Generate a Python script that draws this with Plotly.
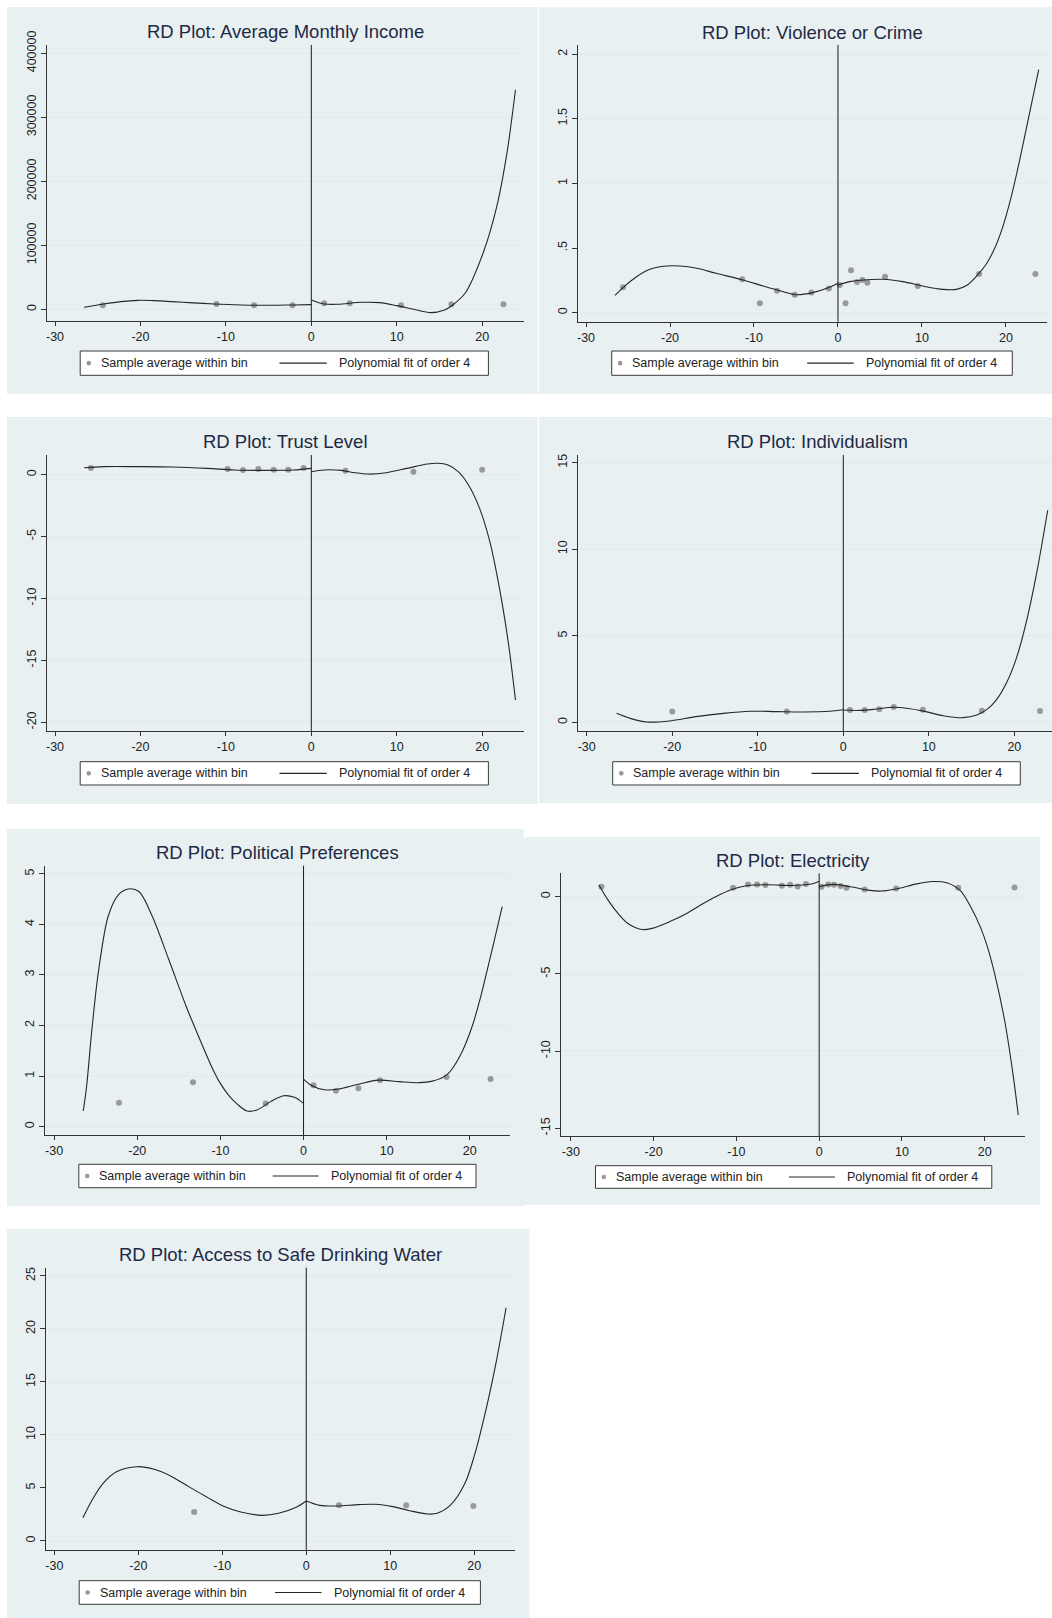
import plotly.graph_objects as go

W, H = 1052, 1618
FONT = "Liberation Sans, Arial, sans-serif"

# ---------------------------------------------------------------- data
x_ticks = [-30, -20, -10, 0, 10, 20]

# Average Monthly Income
income_bin_x = [-24.4, -11.1, -6.7, -2.2, 1.5, 4.5, 10.5, 16.4, 22.5]
income_bin_y = [6200, 8300, 6200, 6200, 9400, 9400, 6200, 7800, 7800]
income_left_x = [-26.6, -24.3, -22.3, -20.3, -18.3, -16.3, -14.3, -11.4, -8.2, -5.0, -2.1, 0]
income_left_y = [3100, 8300, 12000, 14000, 13500, 12000, 10400, 8300, 6800, 6200, 6800, 7300]
income_right_x = [0, 1.5, 3.1, 5.9, 8.0, 10.0, 12.0, 14.0, 15.6, 16.4, 18.0, 20.1, 21.7, 22.9, 23.9]
income_right_y = [14600, 8300, 7800, 10900, 10400, 5700, 0, -5200, -1000, 5200, 25000, 87500,
                  160000, 244000, 343000]
income_yticks = [0, 100000, 200000, 300000, 400000]
income_ytext = ["0", "100000", "200000", "300000", "400000"]

# Violence or Crime
crime_bin_x = [-25.6, -11.4, -9.3, -7.25, -5.15, -3.17, -1.1, 0.2, 0.9, 1.55, 2.26, 2.9, 3.5,
               5.6, 9.5, 16.8, 23.5]
crime_bin_y = [0.196, 0.258, 0.072, 0.170, 0.139, 0.155, 0.186, 0.214, 0.072, 0.327, 0.237,
               0.253, 0.232, 0.278, 0.206, 0.299, 0.299]
crime_left_x = [-26.55, -25.56, -23.98, -22.4, -20.4, -18.8, -16.8, -14.5, -11.3, -8.9, -6.5,
                -5.0, -3.0, -1.0, 0]
crime_left_y = [0.134, 0.196, 0.278, 0.335, 0.361, 0.361, 0.343, 0.304, 0.253, 0.206, 0.162,
                0.139, 0.155, 0.196, 0.227]
crime_right_x = [0, 1.4, 3.0, 5.35, 7.7, 10.1, 12.5, 14.1, 15.3, 16.6, 17.6, 18.6, 19.6, 20.6,
                 21.6, 22.6, 23.9]
crime_right_y = [0.214, 0.240, 0.253, 0.258, 0.240, 0.206, 0.180, 0.180, 0.210, 0.29, 0.37,
                 0.49, 0.66, 0.89, 1.17, 1.48, 1.88]
crime_yticks = [0, 0.5, 1, 1.5, 2]
crime_ytext = ["0", ".5", "1", "1.5", "2"]

# Trust Level
trust_bin_x = [-25.8, -9.8, -8.0, -6.2, -4.4, -2.7, -0.9, 4.0, 11.95, 20.0]
trust_bin_y = [0.54, 0.46, 0.38, 0.46, 0.40, 0.40, 0.54, 0.32, 0.24, 0.40]
trust_left_x = [-26.6, -24.3, -20.3, -16.3, -12.2, -9.0, -6.2, -2.1, 0]
trust_left_y = [0.56, 0.65, 0.65, 0.62, 0.51, 0.38, 0.35, 0.38, 0.51]
trust_right_x = [0, 1.5, 3.5, 5.1, 6.7, 8.8, 11.2, 13.6, 14.8, 16.0, 17.2, 18.4, 19.7, 20.9,
                 22.1, 23.1, 23.9]
trust_right_y = [0.24, 0.38, 0.35, 0.16, 0.05, 0.16, 0.51, 0.86, 0.92, 0.78, 0.24, -0.83,
                 -2.72, -5.41, -9.45, -13.75, -18.2]
trust_yticks = [0, -5, -10, -15, -20]
trust_ytext = ["0", "-5", "-10", "-15", "-20"]

# Individualism
indiv_bin_x = [-20.0, -6.6, 0.78, 2.5, 4.2, 5.9, 9.3, 16.2, 23.0]
indiv_bin_y = [0.62, 0.62, 0.71, 0.71, 0.75, 0.89, 0.73, 0.67, 0.65]
indiv_left_x = [-26.5, -24.9, -23.0, -20.3, -17.2, -14.0, -10.9, -7.8, -4.7, -1.6, 0]
indiv_left_y = [0.52, 0.23, 0.02, 0.08, 0.33, 0.52, 0.64, 0.62, 0.60, 0.64, 0.73]
indiv_right_x = [0, 1.95, 3.9, 5.85, 7.4, 9.36, 11.7, 14.0, 15.6, 16.8, 17.9, 19.1, 20.3,
                 21.4, 22.6, 23.9]
indiv_right_y = [0.71, 0.69, 0.77, 0.87, 0.81, 0.65, 0.385, 0.27, 0.42, 0.75, 1.3, 2.3,
                 3.8, 5.8, 8.6, 12.25]
indiv_yticks = [0, 5, 10, 15]
indiv_ytext = ["0", "5", "10", "15"]

# Political Preferences
politics_bin_x = [-22.2, -13.3, -4.55, 1.2, 3.9, 6.6, 9.2, 17.2, 22.5]
politics_bin_y = [0.475, 0.88, 0.46, 0.82, 0.71, 0.76, 0.92, 0.98, 0.94]
politics_left_x = [-26.5, -26.1, -25.5, -24.7, -23.5, -22.3, -21.1, -19.8, -18.2, -16.2,
                   -14.1, -13.1, -12.1, -11.1, -10.1, -9.0, -8.0, -6.8, -5.6, -4.0, -2.4,
                   -1.1, 0]
politics_left_y = [0.31, 0.79, 1.85, 3.03, 4.16, 4.58, 4.70, 4.65, 4.16, 3.30, 2.37, 1.97,
                   1.58, 1.20, 0.88, 0.62, 0.45, 0.31, 0.33, 0.49, 0.61, 0.58, 0.46]
politics_right_x = [0, 0.9, 2.5, 4.1, 6.6, 9.0, 11.5, 13.9, 15.5, 17.2, 18.0, 18.8, 19.6,
                    20.4, 21.2, 22.0, 22.9, 23.9]
politics_right_y = [0.94, 0.82, 0.73, 0.74, 0.84, 0.92, 0.89, 0.87, 0.90, 1.02, 1.17, 1.39,
                    1.68, 2.04, 2.5, 3.03, 3.65, 4.35]
politics_yticks = [0, 1, 2, 3, 4, 5]
politics_ytext = ["0", "1", "2", "3", "4", "5"]

# Electricity
elec_bin_x = [-26.3, -10.4, -8.6, -7.5, -6.5, -4.5, -3.5, -2.6, -1.6, 0.3, 1.1, 1.8, 2.6,
              3.3, 5.5, 9.3, 16.8, 23.6]
elec_bin_y = [0.65, 0.58, 0.80, 0.80, 0.76, 0.71, 0.78, 0.67, 0.82, 0.65, 0.80, 0.78, 0.69,
              0.58, 0.47, 0.54, 0.58, 0.60]
elec_left_x = [-26.6, -25.5, -24.3, -23.1, -21.4, -20.2, -18.1, -16.0, -14.0, -11.9, -10.2,
               -8.6, -6.1, -3.6, -2.0, -0.7, 0]
elec_left_y = [0.76, -0.22, -1.08, -1.73, -2.12, -2.05, -1.62, -1.08, -0.43, 0.17, 0.54,
               0.73, 0.78, 0.73, 0.76, 0.86, 1.01]
elec_right_x = [0, 1.7, 3.8, 5.9, 7.5, 9.6, 11.65, 13.7, 15.4, 17.0, 18.3, 19.5, 20.3, 21.2,
                22.4, 23.4, 24.05]
elec_right_y = [0.65, 0.80, 0.65, 0.43, 0.37, 0.54, 0.82, 0.99, 0.91, 0.43, -0.65, -2.0,
                -3.2, -5.0, -8.0, -11.44, -14.14]
elec_yticks = [0, -5, -10, -15]
elec_ytext = ["0", "-5", "-10", "-15"]

# Access to Safe Drinking Water
water_bin_x = [-13.35, 3.9, 11.9, 19.9]
water_bin_y = [2.74, 3.36, 3.36, 3.30]
water_left_x = [-26.6, -25.5, -24.2, -22.6, -20.1, -18.1, -16.0, -14.0, -11.9, -9.9, -7.8,
                -5.3, -3.3, -1.2, 0]
water_left_y = [2.2, 3.87, 5.44, 6.54, 7.01, 6.76, 6.07, 5.13, 4.18, 3.30, 2.74, 2.42, 2.61,
                3.18, 3.77]
water_right_x = [0, 1.6, 3.7, 6.2, 8.2, 10.3, 12.3, 14.4, 15.6, 17.2, 18.9, 20.1, 21.4,
                 22.6, 23.8]
water_right_y = [3.77, 3.36, 3.30, 3.43, 3.46, 3.24, 2.86, 2.55, 2.61, 3.40, 5.44, 8.27,
                 12.36, 16.8, 22.0]
water_yticks = [0, 5, 10, 15, 20, 25]
water_ytext = ["0", "5", "10", "15", "20", "25"]

legend_labels = ["Sample average within bin", "Polynomial fit of order 4"]

panels = [
    ("RD Plot: Average Monthly Income", income_bin_x, income_bin_y, income_left_x,
     income_left_y, income_right_x, income_right_y, income_yticks, income_ytext),
    ("RD Plot: Violence or Crime", crime_bin_x, crime_bin_y, crime_left_x, crime_left_y,
     crime_right_x, crime_right_y, crime_yticks, crime_ytext),
    ("RD Plot: Trust Level", trust_bin_x, trust_bin_y, trust_left_x, trust_left_y,
     trust_right_x, trust_right_y, trust_yticks, trust_ytext),
    ("RD Plot: Individualism", indiv_bin_x, indiv_bin_y, indiv_left_x, indiv_left_y,
     indiv_right_x, indiv_right_y, indiv_yticks, indiv_ytext),
    ("RD Plot: Political Preferences", politics_bin_x, politics_bin_y, politics_left_x,
     politics_left_y, politics_right_x, politics_right_y, politics_yticks, politics_ytext),
    ("RD Plot: Electricity", elec_bin_x, elec_bin_y, elec_left_x, elec_left_y, elec_right_x,
     elec_right_y, elec_yticks, elec_ytext),
    ("RD Plot: Access to Safe Drinking Water", water_bin_x, water_bin_y, water_left_x,
     water_left_y, water_right_x, water_right_y, water_yticks, water_ytext),
]

# ---------------------------------------------------------------- page geometry (px)
# bg: graph region box, plot: plot region, xr/yr: axis ranges, title: centre, legend: box
geometry = [
    dict(bg=(7, 7, 537.7, 394), plot=(46.5, 45, 523.5, 321), xr=[-31, 24.84],
         yr=[-18300, 413000], title=(285.5, 31.7), legend=(80.2, 351, 488.4, 375.3)),
    dict(bg=(539, 7.3, 1052, 394), plot=(577.7, 45, 1046.7, 321.7), xr=[-30.99, 24.85],
         yr=[-0.07, 2.07], title=(812.2, 32.3), legend=(611.7, 351, 1012.3, 375.3)),
    dict(bg=(7, 417, 537.7, 804), plot=(46.5, 455, 523.5, 731), xr=[-31, 24.84],
         yr=[-20.7, 1.59], title=(285.5, 441), legend=(80.2, 761.7, 488.4, 785)),
    dict(bg=(539.3, 417, 1052, 803), plot=(578.3, 455, 1052, 731), xr=[-30.98, 24.4],
         yr=[-0.5, 15.44], title=(817.3, 441), legend=(612.7, 761.7, 1020.3, 785)),
    dict(bg=(7, 829, 523.7, 1206), plot=(45, 865.7, 509.7, 1135), xr=[-31.1, 24.8],
         yr=[-0.165, 5.16], title=(277.3, 852.3), legend=(78.8, 1164.3, 476, 1187.7)),
    dict(bg=(523.7, 837, 1040, 1205), plot=(561.2, 873.3, 1025.3, 1136), xr=[-31.16, 24.9],
         yr=[-15.5, 1.52], title=(793.3, 860), legend=(595.5, 1165.7, 991.8, 1188.3)),
    dict(bg=(7, 1229, 529.3, 1618), plot=(45.8, 1267.7, 514.9, 1550), xr=[-31.02, 24.85],
         yr=[-0.85, 25.78], title=(280.4, 1254), legend=(79.2, 1580.7, 480.4, 1604.3)),
]

REGION = "#e8f0f2"
GRID = "#e3ecef"
AXIS = "#333333"
TEXT = "#222222"
TITLE = "#1e2a44"
DOT = "#999999"
CURVE = "#262626"


def px(x):
    return x / W


def py(y):
    return 1 - y / H


fig = go.Figure()
shapes, annotations, axes = [], [], {}

for i, (panel, g) in enumerate(zip(panels, geometry), start=1):
    title, bx, by, lx, ly, rx, ry, yt, ytext = panel
    sfx = "" if i == 1 else str(i)
    xa, ya = "x" + sfx, "y" + sfx

    # graph region background
    x0, y0, x1, y1 = g["bg"]
    shapes.append(dict(type="rect", xref="paper", yref="paper", x0=px(x0), x1=px(x1),
                       y0=py(y1), y1=py(y0), fillcolor=REGION, line=dict(width=0),
                       layer="below"))

    l, t, r, b = g["plot"]
    axes["xaxis" + sfx] = dict(
        domain=[px(l), px(r)], range=g["xr"], anchor=ya, tickmode="array", tickvals=x_ticks,
        ticktext=[str(v) for v in x_ticks], ticks="outside", ticklen=4, tickwidth=1,
        tickcolor=AXIS, showline=True, linecolor=AXIS, linewidth=1, showgrid=False,
        zeroline=False, automargin=False,
        tickfont=dict(family=FONT, size=12.5, color=TEXT), fixedrange=True)
    axes["yaxis" + sfx] = dict(
        domain=[py(b), py(t)], range=g["yr"], anchor=xa, tickmode="array", tickvals=yt,
        ticktext=ytext, tickangle=-90, ticks="outside", ticklen=5, tickwidth=1,
        tickcolor=AXIS, showline=True, linecolor=AXIS, linewidth=1, showgrid=True,
        gridcolor=GRID, gridwidth=1.5, zeroline=False, automargin=False,
        tickfont=dict(family=FONT, size=12.5, color=TEXT), fixedrange=True)

    # binned sample means
    fig.add_trace(go.Scatter(x=bx, y=by, mode="markers", xaxis=xa, yaxis=ya,
                             marker=dict(size=6, color=DOT, line=dict(width=0)),
                             showlegend=False, hoverinfo="x+y"))
    # fourth-order fits on each side of the cutoff
    for cx, cy in ((lx, ly), (rx, ry)):
        fig.add_trace(go.Scatter(x=cx, y=cy, mode="lines", xaxis=xa, yaxis=ya,
                                 line=dict(color=CURVE, width=1.1, shape="spline",
                                           smoothing=0.9),
                                 showlegend=False, hoverinfo="x+y"))

    # cutoff line at 0
    shapes.append(dict(type="line", xref=xa, yref=ya + " domain", x0=0, x1=0, y0=0, y1=1,
                       line=dict(color="#1a1a1a", width=1)))

    # panel title
    tx, ty = g["title"]
    annotations.append(dict(text=title, xref="paper", yref="paper", x=px(tx), y=py(ty),
                            xanchor="center", yanchor="middle", showarrow=False,
                            font=dict(family=FONT, size=18.5, color=TITLE)))

    # legend box
    lx0, ly0, lx1, ly1 = g["legend"]
    lw = lx1 - lx0
    my = (ly0 + ly1) / 2
    shapes.append(dict(type="rect", xref="paper", yref="paper", x0=px(lx0), x1=px(lx1),
                       y0=py(ly1), y1=py(ly0), fillcolor="white",
                       line=dict(color="#3a3a3a", width=1)))
    dx = lx0 + 0.021 * lw
    shapes.append(dict(type="circle", xref="paper", yref="paper", x0=px(dx - 2.3),
                       x1=px(dx + 2.3), y0=py(my + 2.3), y1=py(my - 2.3), fillcolor=DOT,
                       line=dict(width=0)))
    shapes.append(dict(type="line", xref="paper", yref="paper", x0=px(lx0 + 0.488 * lw),
                       x1=px(lx0 + 0.604 * lw), y0=py(my), y1=py(my),
                       line=dict(color=CURVE, width=1.1)))
    for frac, label in ((0.046, legend_labels[0]), (0.63, legend_labels[1])):
        annotations.append(dict(text=label, xref="paper", yref="paper",
                                x=px(lx0 + frac * lw), y=py(my), xanchor="left",
                                yanchor="middle", showarrow=False,
                                font=dict(family=FONT, size=12.5, color=TEXT)))

fig.update_layout(
    width=W, height=H, margin=dict(l=0, r=0, t=0, b=0, pad=0, autoexpand=False),
    paper_bgcolor="white", plot_bgcolor="white", showlegend=False,
    shapes=shapes, annotations=annotations, font=dict(family=FONT), **axes)

fig.write_html("out.html")
